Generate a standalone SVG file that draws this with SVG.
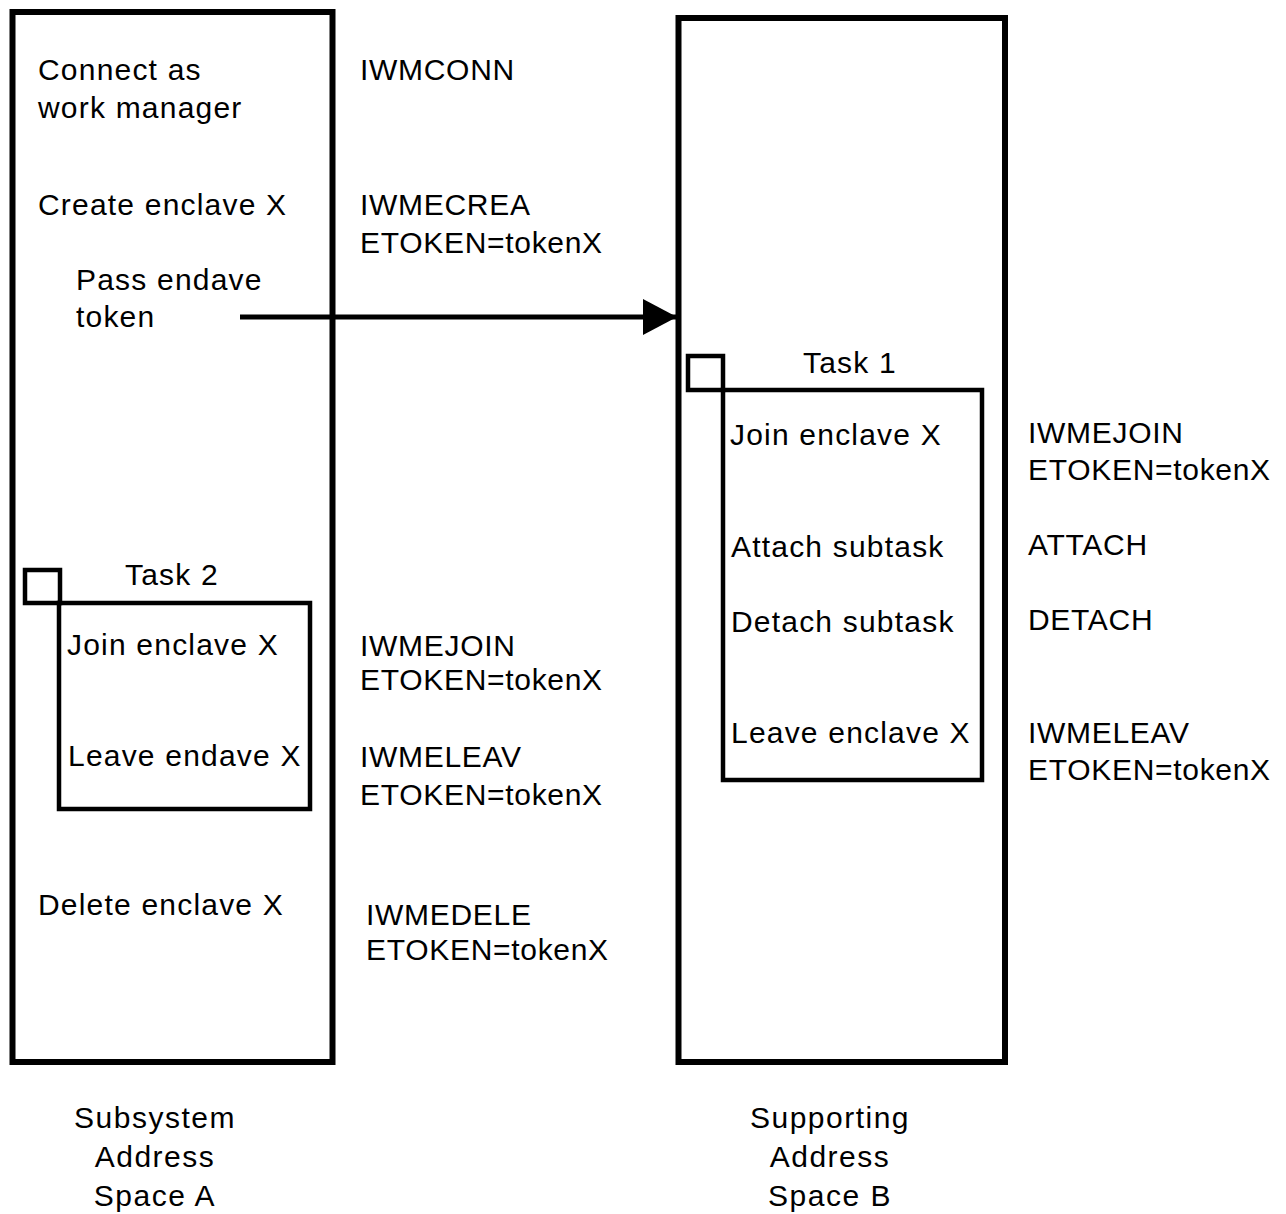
<svg xmlns="http://www.w3.org/2000/svg" width="1286" height="1214" viewBox="0 0 1286 1214">
<style>
.box{fill:none;stroke:#000;stroke-width:6}
.tbox{fill:none;stroke:#000;stroke-width:4.5}
text{font-family:"Liberation Sans",Arial,sans-serif;font-size:30px;fill:#000;letter-spacing:0.7px}
.l{letter-spacing:1.2px}
.c{text-anchor:middle;letter-spacing:1.5px}
</style>
<defs>
<marker id="ah" markerWidth="34" markerHeight="36" refX="34" refY="18" orient="auto" markerUnits="userSpaceOnUse" viewBox="0 0 34 36">
<path d="M0,0 L34,18 L0,36 Z" fill="#000"/>
</marker>
</defs>
<rect width="1286" height="1214" fill="#fff"/>
<g id="spaceA">
<rect class="box" x="12.5" y="12" width="320" height="1050"/>
<text class="l" x="38" y="80">Connect as</text>
<text class="l" x="38" y="118">work manager</text>
<text class="l" x="38" y="215">Create enclave X</text>
<text class="l" x="76" y="290">Pass endave</text>
<text class="l" x="76" y="327">token</text>
<text x="360" y="80">IWMCONN</text>
<text x="360" y="215">IWMECREA</text>
<text x="360" y="253">ETOKEN=tokenX</text>
<text x="360" y="656">IWMEJOIN</text>
<text x="360" y="690">ETOKEN=tokenX</text>
<text x="360" y="767">IWMELEAV</text>
<text x="360" y="805">ETOKEN=tokenX</text>
<text class="l" x="38" y="915">Delete enclave X</text>
<text x="366" y="925">IWMEDELE</text>
<text x="366" y="960">ETOKEN=tokenX</text>
<text class="c" x="155" y="1128">Subsystem</text>
<text class="c" x="155" y="1167">Address</text>
<text class="c" x="155" y="1206">Space A</text>
</g>
<g id="task2">
<rect class="tbox" x="25" y="570" width="35" height="33"/>
<rect class="tbox" x="59" y="603" width="251" height="206"/>
<text class="l" x="125" y="585">Task 2</text>
<text class="l" x="67" y="655">Join enclave X</text>
<text class="l" x="68" y="766">Leave endave X</text>
</g>
<g id="spaceB">
<rect class="box" x="678.5" y="18" width="326.5" height="1044"/>
<text class="c" x="830" y="1128">Supporting</text>
<text class="c" x="830" y="1167">Address</text>
<text class="c" x="830" y="1206">Space B</text>
<text x="1028" y="443">IWMEJOIN</text>
<text x="1028" y="480">ETOKEN=tokenX</text>
<text x="1028" y="555">ATTACH</text>
<text x="1028" y="630">DETACH</text>
<text x="1028" y="743">IWMELEAV</text>
<text x="1028" y="780">ETOKEN=tokenX</text>
</g>
<g id="task1">
<rect class="tbox" x="688" y="356" width="35" height="34"/>
<rect class="tbox" x="723" y="390" width="259" height="390"/>
<text class="l" x="803" y="373">Task 1</text>
<text class="l" x="730" y="445">Join enclave X</text>
<text class="l" x="731" y="557">Attach subtask</text>
<text class="l" x="731" y="632">Detach subtask</text>
<text class="l" x="731" y="743">Leave enclave X</text>
</g>
<g id="connectors">
<line x1="240" y1="317" x2="677" y2="317" stroke="#000" stroke-width="5" marker-end="url(#ah)"/>
</g>
</svg>
